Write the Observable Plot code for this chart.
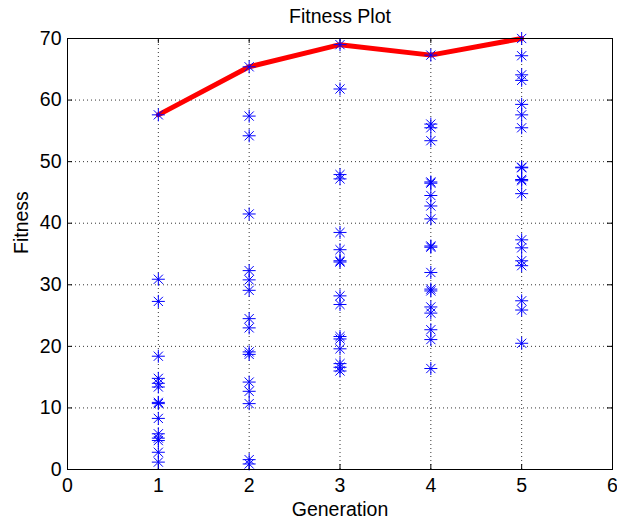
<!DOCTYPE html>
<html>
<head>
<meta charset="utf-8">
<script src="https://cdn.jsdelivr.net/npm/d3@7"></script>
<script src="https://cdn.jsdelivr.net/npm/@observablehq/plot@0.6"></script>
<style>
body { margin: 0; background: #fff; }
svg { font-family: "Liberation Sans", Arial, sans-serif; }
</style>
</head>
<body>
<div id="chart"></div>
<script>
const generations = [1, 2, 3, 4, 5];
const gen1 = [57.6, 30.9, 27.3, 18.4, 14.8, 14.0, 13.4, 10.9, 10.7, 8.3, 5.8, 5.1, 4.7, 2.8, 1.2];
const gen2 = [65.4, 57.4, 54.2, 41.5, 32.3, 30.8, 29.1, 24.5, 23.0, 19.1, 18.7, 14.2, 12.7, 10.7, 1.6, 0.9];
const gen3 = [69.0, 61.8, 47.9, 47.2, 38.5, 35.7, 33.9, 33.7, 28.2, 26.8, 21.6, 21.2, 19.6, 17.2, 16.6, 16.0];
const gen4 = [67.3, 56.1, 55.5, 53.4, 46.7, 46.5, 44.5, 42.8, 40.7, 36.1, 36.3, 32.0, 29.3, 29.0, 26.4, 25.4, 22.7, 21.1, 16.4];
const gen5 = [70.0, 67.2, 64.1, 63.2, 59.3, 57.6, 55.5, 49.1, 49.0, 46.9, 47.1, 44.8, 37.3, 36.0, 33.9, 33.1, 27.4, 25.9, 20.5];
const bestFitness = [57.6, 65.4, 69.0, 67.3, 70.0];
const xTicks = [0, 1, 2, 3, 4, 5, 6];
const yTicks = [0, 10, 20, 30, 40, 50, 60, 70];

const allGens = [gen1, gen2, gen3, gen4, gen5];
const points = allGens.flatMap((arr, i) => arr.map(v => ({gen: generations[i], fitness: v})));
const best = generations.map((g, i) => ({gen: g, fitness: bestFitness[i]}));

// MATLAB-style '*' marker: + and x superimposed
const star = {
  draw(context, size) {
    const r = Math.sqrt(size / Math.PI);
    const d = r * Math.SQRT1_2;
    context.moveTo(-r, 0); context.lineTo(r, 0);
    context.moveTo(0, -r); context.lineTo(0, r);
    context.moveTo(-d, -d); context.lineTo(d, d);
    context.moveTo(-d, d); context.lineTo(d, -d);
  }
};

const tlx = 0.055, tly = 0.8;
const FS = 19.5;
const chart = Plot.plot({
  width: 617,
  height: 525,
  marginLeft: 67,
  marginRight: 5,
  marginTop: 38,
  marginBottom: 56,
  style: {fontFamily: '"Liberation Sans", Arial, sans-serif', background: "#fff"},
  x: {domain: [0, 6], label: null},
  y: {domain: [0, 70], label: null},
  marks: [
    Plot.ruleX(generations, {x: d => d, y1: 0, y2: 70, stroke: "#000", strokeWidth: 1, strokeDasharray: "1,3", strokeOpacity: 0.8}),
    Plot.ruleY(yTicks.slice(1, -1), {y: d => d, x1: 0, x2: 6, stroke: "#000", strokeWidth: 1, strokeDasharray: "1,3", strokeOpacity: 0.8}),
    Plot.ruleX(xTicks, {x: d => d, y1: 0, y2: tly, stroke: "#000"}),
    Plot.ruleX(xTicks, {x: d => d, y1: 70 - tly, y2: 70, stroke: "#000"}),
    Plot.ruleY(yTicks, {y: d => d, x1: 0, x2: tlx, stroke: "#000"}),
    Plot.ruleY(yTicks, {y: d => d, x1: 6 - tlx, x2: 6, stroke: "#000"}),
    Plot.line(best, {x: "gen", y: "fitness", stroke: "#ff0000", strokeWidth: 5, strokeLinejoin: "miter"}),
    Plot.dot(points, {x: "gen", y: "fitness", symbol: star, r: 6.5, stroke: "#0000ff", strokeWidth: 1, fill: "none"}),
    Plot.frame({stroke: "#000", strokeWidth: 1}),
    Plot.axisX(xTicks, {tickSize: 0, tickPadding: 9, fontSize: FS, fill: "#000", label: null, tickFormat: d => String(d)}),
    Plot.axisY(yTicks, {tickSize: 0, tickPadding: 6, fontSize: FS, fill: "#000", label: null, tickFormat: d => String(d)}),
    Plot.text(["Fitness Plot"], {frameAnchor: "top", lineAnchor: "middle", dy: -22, fontSize: FS, fill: "#000"}),
    Plot.text(["Generation"], {frameAnchor: "bottom", lineAnchor: "middle", dy: 40, fontSize: FS, fill: "#000"}),
    Plot.text(["Fitness"], {frameAnchor: "left", lineAnchor: "middle", dx: -46, rotate: -90, fontSize: FS, fill: "#000"})
  ]
});
document.getElementById("chart").appendChild(chart);
</script>
</body>
</html>
